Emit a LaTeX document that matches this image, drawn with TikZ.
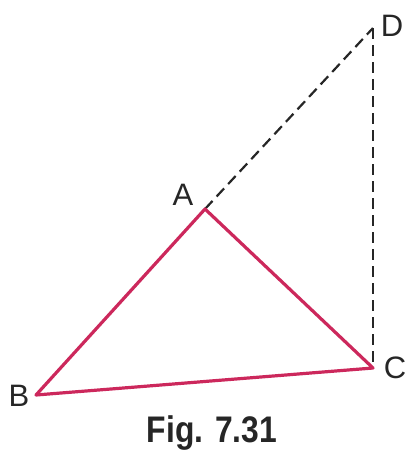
\documentclass[tikz,border=0pt]{standalone}
\usepackage{fontspec}
\setmainfont{Liberation Sans}
\definecolor{tri}{RGB}{204,40,92}
\begin{document}
\begin{tikzpicture}[x=1pt,y=-1pt,
  side/.style={draw=tri,line width=3.2pt,line join=round},
  dashline/.style={draw=black!85,line width=2.2pt,dash pattern=on 11pt off 6pt},
  lbl/.style={font=\fontsize{31}{33}\selectfont,text=black!85,inner sep=0pt}]
\useasboundingbox (0,0) rectangle (407,455);
\coordinate (A) at (205,209);
\coordinate (B) at (36,395);
\coordinate (C) at (373,368);
\coordinate (D) at (373,28);
\draw[dashline] (A) -- (D);
\draw[dashline] (D) -- (C);
\draw[side] (A) -- (B) -- (C) -- cycle;
\node[lbl] (la) at (183,195) {A};
\node[lbl] (lb) at (19,396) {B};
\node[lbl] (lc) at (395,368) {C};
\node[lbl] (ld) at (392,26) {D};
\node[inner sep=0pt,text=black!85,font=\bfseries\fontsize{37}{39}\selectfont,xscale=0.86] (cap) at (212,433) {Fig. 7.31};
\end{tikzpicture}
\end{document}
